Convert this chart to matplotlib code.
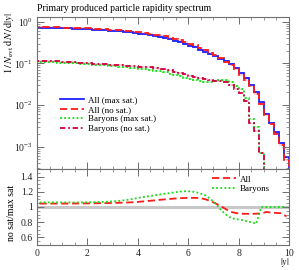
import numpy as np
import matplotlib
matplotlib.use('Agg')
import matplotlib.pyplot as plt
from matplotlib.ticker import MultipleLocator, LogLocator, NullFormatter

plt.rcParams['font.family'] = ['Liberation Serif', 'DejaVu Serif']
plt.rcParams['mathtext.fontset'] = 'stix'

# bin edges in |y|, 50 bins of 0.2
edges = np.linspace(0, 10, 51)
centres = 0.5 * (edges[1:] + edges[:-1])

# All particles, max saturation
all_max = [0.710, 0.709, 0.707, 0.704, 0.700, 0.696, 0.691, 0.685, 0.678, 0.670,
           0.661, 0.651, 0.640, 0.628, 0.615, 0.601, 0.586, 0.570, 0.553, 0.535,
           0.516, 0.496, 0.474, 0.451, 0.427, 0.402, 0.376, 0.349, 0.322, 0.295,
           0.268, 0.241, 0.215, 0.190, 0.167, 0.148, 0.130, 0.113, 0.096, 0.078,
           0.058, 0.044, 0.031, 0.020, 0.0115, 0.0062, 0.0037, 0.0022, 0.0012, 0.00055]

# no sat / max sat, all particles
all_ratio = [1.045, 1.045, 1.045, 1.045, 1.045, 1.045, 1.046, 1.046, 1.047, 1.047,
             1.048, 1.049, 1.050, 1.051, 1.052, 1.054, 1.056, 1.058, 1.061, 1.064,
             1.070, 1.076, 1.082, 1.088, 1.095, 1.101, 1.107, 1.112, 1.116, 1.119,
             1.120, 1.120, 1.115, 1.100, 1.075, 1.045, 1.010, 0.970, 0.935, 0.920,
             0.912, 0.910, 0.910, 0.912, 0.915, 0.935, 0.925, 0.922, 0.918, 0.875]

# Baryons, max saturation
bar_max = [0.108, 0.108, 0.107, 0.106, 0.105, 0.104, 0.103, 0.101, 0.099, 0.097,
           0.095, 0.093, 0.091, 0.089, 0.087, 0.085, 0.083, 0.080, 0.078, 0.076,
           0.074, 0.072, 0.070, 0.067, 0.064, 0.061, 0.057, 0.053, 0.049, 0.045,
           0.042, 0.039, 0.037, 0.036, 0.036, 0.037, 0.039, 0.040, 0.036, 0.029,
           0.024, 0.015, 0.0045, 0.0030, 0.0007, 0.0, 0.0, 0.0, 0.0, 0.0]

# no sat / max sat, baryons
bar_ratio = [1.06, 1.06, 1.06, 1.06, 1.06, 1.06, 1.06, 1.06, 1.06, 1.06,
             1.062, 1.064, 1.066, 1.068, 1.072, 1.076, 1.082, 1.090, 1.100, 1.112,
             1.125, 1.135, 1.145, 1.155, 1.165, 1.175, 1.185, 1.195, 1.203, 1.208,
             1.205, 1.195, 1.175, 1.150, 1.100, 1.040, 0.960, 0.900, 0.855, 0.840,
             0.830, 0.815, 0.800, 0.780, 1.0, 1.0, 1.0, 1.0, 1.0, 1.0]

all_max = np.array(all_max)
bar_max = np.array(bar_max)
all_nosat = all_max * np.array(all_ratio)
bar_nosat = bar_max * np.array(bar_ratio)

c_blue = '#1f1fff'
c_red = '#ff1a1a'
c_green = '#11dd11'
c_crim = '#d0003c'
c_frame = '#6e6e6e'


def floor(v):
    v = np.asarray(v, dtype=float)
    return np.where(v > 0, v, 1e-7)


fig = plt.figure(figsize=(2.99, 2.70), dpi=100)
ax = fig.add_axes([0.1237, 0.374, 0.843, 0.563])
axr = fig.add_axes([0.1237, 0.0926, 0.843, 0.2815], sharex=ax)

series = [
    (all_max, c_blue, '-', 'All (max sat.)'),
    (all_nosat, c_red, (0, (4, 2)), 'All (no sat.)'),
    (bar_max, c_green, (0, (1, 1.3)), 'Baryons (max sat.)'),
    (bar_nosat, c_crim, (0, (3, 1.5, 1, 1.5)), 'Baryons (no sat.)'),
]
handles = []
for vals, col, ls, lab in series:
    v = floor(vals)
    ax.stairs(v * 1.05, edges, baseline=v * 0.95, fill=True,
              color=col, alpha=0.18, lw=0)
    ax.stairs(v, edges, color=col, linestyle=ls, lw=1.3, label=lab)
    handles.append(plt.Line2D([], [], color=col, linestyle=ls, lw=1.3))

ax.set_yscale('log')
ax.set_ylim(2.9e-4, 1.3)
ax.set_xlim(0, 10)
ax.set_ylabel(r'$1\,/\,N_{\mathrm{evt}}\;\mathrm{d}N\,/\,\mathrm{d}|y|$',
              fontsize=7.5, loc='top')
ax.yaxis.set_label_coords(-0.085, 1.03)
ax.set_title('Primary produced particle rapidity spectrum', loc='left',
             fontsize=7, pad=4)
ax.yaxis.set_major_locator(LogLocator(base=10, numticks=10))
ax.yaxis.set_minor_locator(LogLocator(base=10, subs=np.arange(2, 10), numticks=10))
ax.yaxis.set_minor_formatter(NullFormatter())
ax.tick_params(labelbottom=False)
ax.legend(handles, [s[3] for s in series], loc='upper left',
          bbox_to_anchor=(0.07, 0.515), frameon=False, fontsize=6.5,
          handlelength=2.6, handletextpad=0.5, labelspacing=0.12,
          borderpad=0.1)

# ratio panel
axr.axhline(1.0, color='#c8c8c8', lw=2.2, zorder=1)
axr.plot(centres, all_ratio, color=c_red, linestyle=(0, (4, 2)), lw=1.3, label='All')
axr.plot(centres, bar_ratio, color=c_green, linestyle=(0, (1, 1.3)), lw=1.3, label='Baryons')
axr.set_ylim(0.5, 1.5)
axr.set_ylabel('no sat/max sat', fontsize=7)
axr.yaxis.set_label_coords(-0.085, 0.42)
axr.set_xlabel(r'$|y|$', fontsize=7, loc='right')
axr.xaxis.set_label_coords(1.0, -0.15)
axr.yaxis.set_major_locator(MultipleLocator(0.2))
axr.yaxis.set_minor_locator(MultipleLocator(0.05))
axr.xaxis.set_major_locator(MultipleLocator(2))
axr.xaxis.set_minor_locator(MultipleLocator(0.5))
axr.set_yticks([0.6, 0.8, 1.0, 1.2, 1.4])
axr.set_yticklabels(['0.6', '0.8', '1', '1.2', '1.4'])
axr.legend(loc='upper left', bbox_to_anchor=(0.67, 1.0), frameon=False,
           fontsize=6.5, handlelength=2.6, handletextpad=0.5,
           labelspacing=0.15, borderpad=0.2)

for a in (ax, axr):
    for s in a.spines.values():
        s.set_color(c_frame)
        s.set_linewidth(0.8)
    a.tick_params(which='both', direction='in', top=True, right=True,
                  colors=c_frame, labelcolor='#222222', labelsize=7, pad=3)
    a.tick_params(which='major', length=5, width=0.7)
    a.tick_params(which='minor', length=2.5, width=0.5)

fig.savefig('out.png', dpi=100)
